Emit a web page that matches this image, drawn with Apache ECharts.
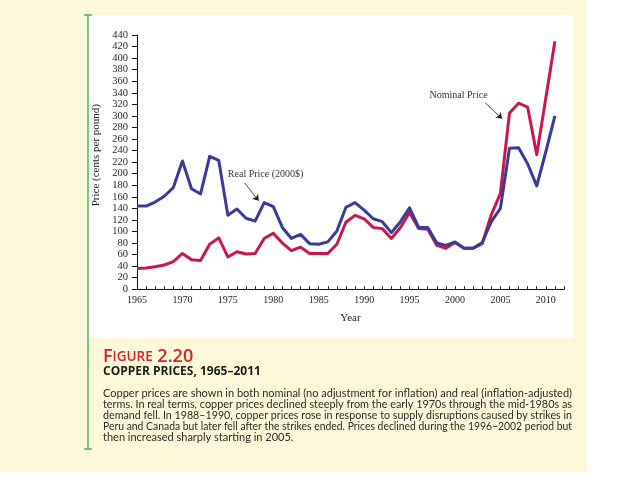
<!DOCTYPE html>
<html><head><meta charset="utf-8">
<script src="https://cdn.jsdelivr.net/npm/echarts@6/dist/echarts.min.js"></script>
<style>html,body{margin:0;padding:0;background:#fff}#c{width:625px;height:494px}</style>
</head><body><div id="c"></div>
<script>
const years = [];
for (let y = 1965; y <= 2011; y++) years.push(y);
const realPrice = [144,144,151,161,176,222,174,165,230,223,
                   128,139,123,118,150,143,107,88,95,79,
                   78,82,101,142,150,137,122,117,98,117,
                   141,107,107,80,76,82,71,71,81,117,
                   140,244,245,217,179,238,300];
const nominalPrice = [36,37,39,42,48,62,51,50,78,89,
                      56,65,61,62,88,97,80,67,73,62,
                      62,62,78,116,128,122,107,105,88,107,
                      133,105,104,76,71,81,71,71,79,129,
                      166,305,322,315,233,331,429];
const yTicks = [0,20,40,60,80,100,120,140,160,180,200,220,240,260,280,300,320,340,360,380,400,420,440];
const xTickLabels = [1965,1970,1975,1980,1985,1990,1995,2000,2005,2010];
const captionLines = [
  "Copper prices are shown in both nominal (no adjustment for inflation) and real (inflation-adjusted)",
  "terms. In real terms, copper prices declined steeply from the early 1970s through the mid-1980s as",
  "demand fell. In 1988\u20131990, copper prices rose in response to supply disruptions caused by strikes in",
  "Peru and Canada but later fell after the strikes ended. Prices declined during the 1996\u20132002 period but",
  "then increased sharply starting in 2005."
];

const SERIF = "'Liberation Serif', 'DejaVu Serif', serif";
const SANS = "Lato, 'Open Sans', sans-serif";
const chart = echarts.init(document.getElementById('c'));

const measureCtx = document.createElement('canvas').getContext('2d');
measureCtx.font = '11px ' + SANS;
const captionWidth = 469;

const graphics = [
  {type:'rect', z:-100, shape:{x:0,y:0,width:587,height:472}, style:{fill:'#FDF9D8'}},
  {type:'rect', z:-99, shape:{x:88,y:15,width:485,height:323}, style:{fill:'#FFFFFF'}},
  {type:'line', z:10, shape:{x1:88,y1:15,x2:88,y2:449}, style:{stroke:'#23A04A', lineWidth:1.2}},
  {type:'line', z:10, shape:{x1:84,y1:15,x2:92,y2:15}, style:{stroke:'#23A04A', lineWidth:1.2}},
  {type:'line', z:10, shape:{x1:84,y1:449,x2:92,y2:449}, style:{stroke:'#23A04A', lineWidth:1.2}},
  {type:'text', z:10, style:{x:103, y:357, textVerticalAlign:'middle',
    text:'{a|F}{b|IGURE}{a| 2.20}',
    rich:{a:{fontSize:18, fontWeight:600, fontFamily:"'Open Sans', sans-serif", fill:'#D2232A'},
          b:{fontSize:13.5, fontWeight:600, fontFamily:"'Open Sans', sans-serif", fill:'#D2232A'}}}},
  {type:'text', z:10, style:{x:103, y:372, textVerticalAlign:'middle', text:'COPPER PRICES, 1965\u20132011',
    fontSize:12, fontWeight:'bold', fontFamily:"'Open Sans', sans-serif", fill:'#1a1a1a'}}
];
captionLines.forEach((t, i) => {
  const last = i === captionLines.length - 1;
  const w = measureCtx.measureText(t).width;
  const sx = last ? 1 : captionWidth / w;
  graphics.push({type:'text', z:10, x:103, y:393 + i*11.1, scaleX:sx, scaleY:1, originX:0, originY:0,
    style:{x:0, y:0, textVerticalAlign:'middle', text:t, fontSize:11, fontFamily:SANS, fill:'#2a2a2a'}});
});

chart.setOption({
  animation:false,
  backgroundColor:'#ffffff',
  graphic: graphics,
  grid:{left:137, right:61, top:35, bottom:204.7, containLabel:false},
  xAxis:{
    type:'value', min:1965, max:2012, interval:1,
    name:'Year', nameLocation:'middle', nameGap:23,
    nameTextStyle:{fontFamily:SERIF, fontSize:11, color:'#222'},
    axisLine:{show:true, lineStyle:{color:'#111', width:1}},
    axisTick:{show:true, inside:true, length:3, lineStyle:{color:'#111'}},
    axisLabel:{margin:6, fontFamily:SERIF, fontSize:10, color:'#2a2230',
      formatter: v => xTickLabels.indexOf(v) >= 0 ? String(v) : ''},
    splitLine:{show:false}
  },
  yAxis:{
    type:'value', min:0, max:440, interval:20,
    name:'Price (cents per pound)', nameLocation:'middle', nameGap:24, nameRotate:90,
    nameTextStyle:{fontFamily:SERIF, fontSize:11, color:'#222', padding:[0,0,0,14]},
    axisLine:{show:true, lineStyle:{color:'#111', width:1}},
    axisTick:{show:true, inside:false, length:5, lineStyle:{color:'#111'}},
    axisLabel:{margin:9, fontFamily:SERIF, fontSize:10.5, color:'#2a2230',
      formatter: v => yTicks.indexOf(v) >= 0 ? String(v) : ''},
    splitLine:{show:false}
  },
  series:[
    {
      name:'Nominal Price', type:'line', showSymbol:false, symbol:'none',
      data: years.map((y,i) => [y, nominalPrice[i]]),
      lineStyle:{color:'#C8174C', width:3, join:'round'}, z:3,
      markLine:{silent:true, animation:false, symbol:['none','arrow'], symbolSize:6,
        lineStyle:{color:'#222', width:0.8, type:'solid'}, label:{show:false},
        data:[[{coord:[2003.3,323]},{coord:[2005.2,295]}]]},
      markPoint:{silent:true, symbol:'circle', symbolSize:0,
        label:{show:true, position:'right', distance:0, fontFamily:SERIF, fontSize:10, color:'#333',
          formatter:'Nominal Price'},
        data:[{coord:[1997.2,335]}]}
    },
    {
      name:'Real Price (2000$)', type:'line', showSymbol:false, symbol:'none',
      data: years.map((y,i) => [y, realPrice[i]]),
      lineStyle:{color:'#3A3A98', width:3, join:'round'}, z:4,
      markLine:{silent:true, animation:false, symbol:['none','arrow'], symbolSize:6,
        lineStyle:{color:'#222', width:0.8, type:'solid'}, label:{show:false},
        data:[[{coord:[1976.85,184]},{coord:[1978.4,153]}]]},
      markPoint:{silent:true, symbol:'circle', symbolSize:0,
        label:{show:true, position:'right', distance:0, fontFamily:SERIF, fontSize:10, color:'#333',
          formatter:'Real Price (2000$)'},
        data:[{coord:[1975.0,199.5]}]}
    }
  ]
});
</script></body></html>
